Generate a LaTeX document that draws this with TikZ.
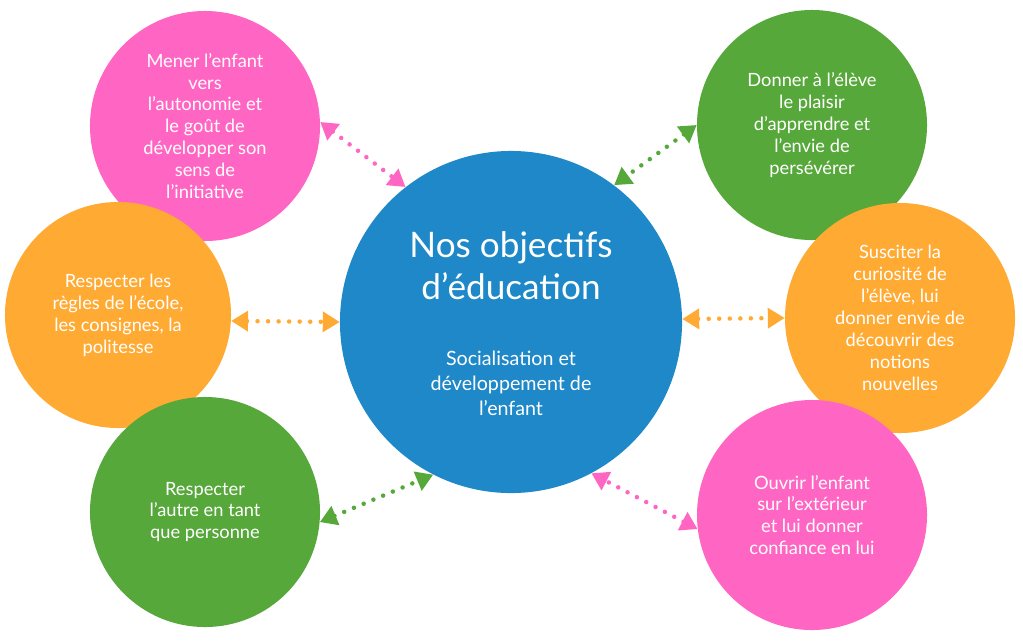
\documentclass[tikz,border=0pt]{standalone}
\usepackage{fontspec}
\setmainfont{Lato}
\usepackage{tikz}
\usetikzlibrary{arrows.meta}
\definecolor{bleu}{HTML}{1E88C8}
\definecolor{rose}{HTML}{FF66C4}
\definecolor{vert}{HTML}{56A83A}
\definecolor{orangeclair}{HTML}{FFAA33}

\begin{document}
\begin{tikzpicture}[x=0.025cm,y=-0.025cm,
    bulle/.style={circle,minimum size=5.75cm,inner sep=0pt,text=white,align=center,font=\fontsize{13}{15.6}\selectfont},
    fleche/.style={{Triangle[length=12pt,width=14pt]}-{Triangle[length=12pt,width=14pt]},line width=3.2pt,line cap=round,dash pattern=on 0pt off 7.5pt}]
                      \useasboundingbox[fill=white] (0,0) rectangle (1023,640);
                      % les bulles autour
                      \node[bulle,fill=rose](autonomie)at(205,126){Mener l'enfant\\vers\\l'autonomie et\\le goût de\\développer son\\sens de\\l'initiative};
                      \node[bulle,fill=vert](plaisir)at(812,125){Donner à l'élève\\le plaisir\\d'apprendre et\\l'envie de\\persévérer};
                      \node[bulle,fill=orangeclair,minimum size=5.65cm](regles)at(118,315){Respecter les\\règles de l'école,\\les consignes, la\\politesse};
                      \node[bulle,fill=orangeclair](curiosite)at(900,318){Susciter la\\curiosité de\\l'élève, lui\\donner envie de\\découvrir des\\notions\\nouvelles};
                      \node[bulle,fill=vert](autre)at(205,512){Respecter\\l'autre en tant\\que personne};
                      \node[bulle,fill=rose](confiance)at(812,515){Ouvrir l'enfant\\sur l'extérieur\\et lui donner\\confiance en lui};
                      % le centre
                      \node[circle,fill=bleu,minimum size=8.55cm,inner sep=0pt](centre)at(511,322){};
                      \node[text=white,align=center,font=\fontsize{25}{30}\selectfont](titre)at(511,266){Nos objectifs\\d'éducation};
                      \node[text=white,align=center,font=\fontsize{14}{17.7}\selectfont](soustitre)at(511,383){Socialisation et\\développement de\\l'enfant};
                      % les fleches
                      \draw[fleche,rose](autonomie.2)--(centre.128);
                      \draw[fleche,vert](plaisir.180)--(centre.53);
                      \draw[fleche,orangeclair](regles.-3)--(centre.180);
                      \draw[fleche,orangeclair](centre.1)--(curiosite.180);
                      \draw[fleche,vert](autre.-5)--(centre.243);
                      \draw[fleche,rose](confiance.187)--(centre.298);
                  \end{tikzpicture}
\end{document}
